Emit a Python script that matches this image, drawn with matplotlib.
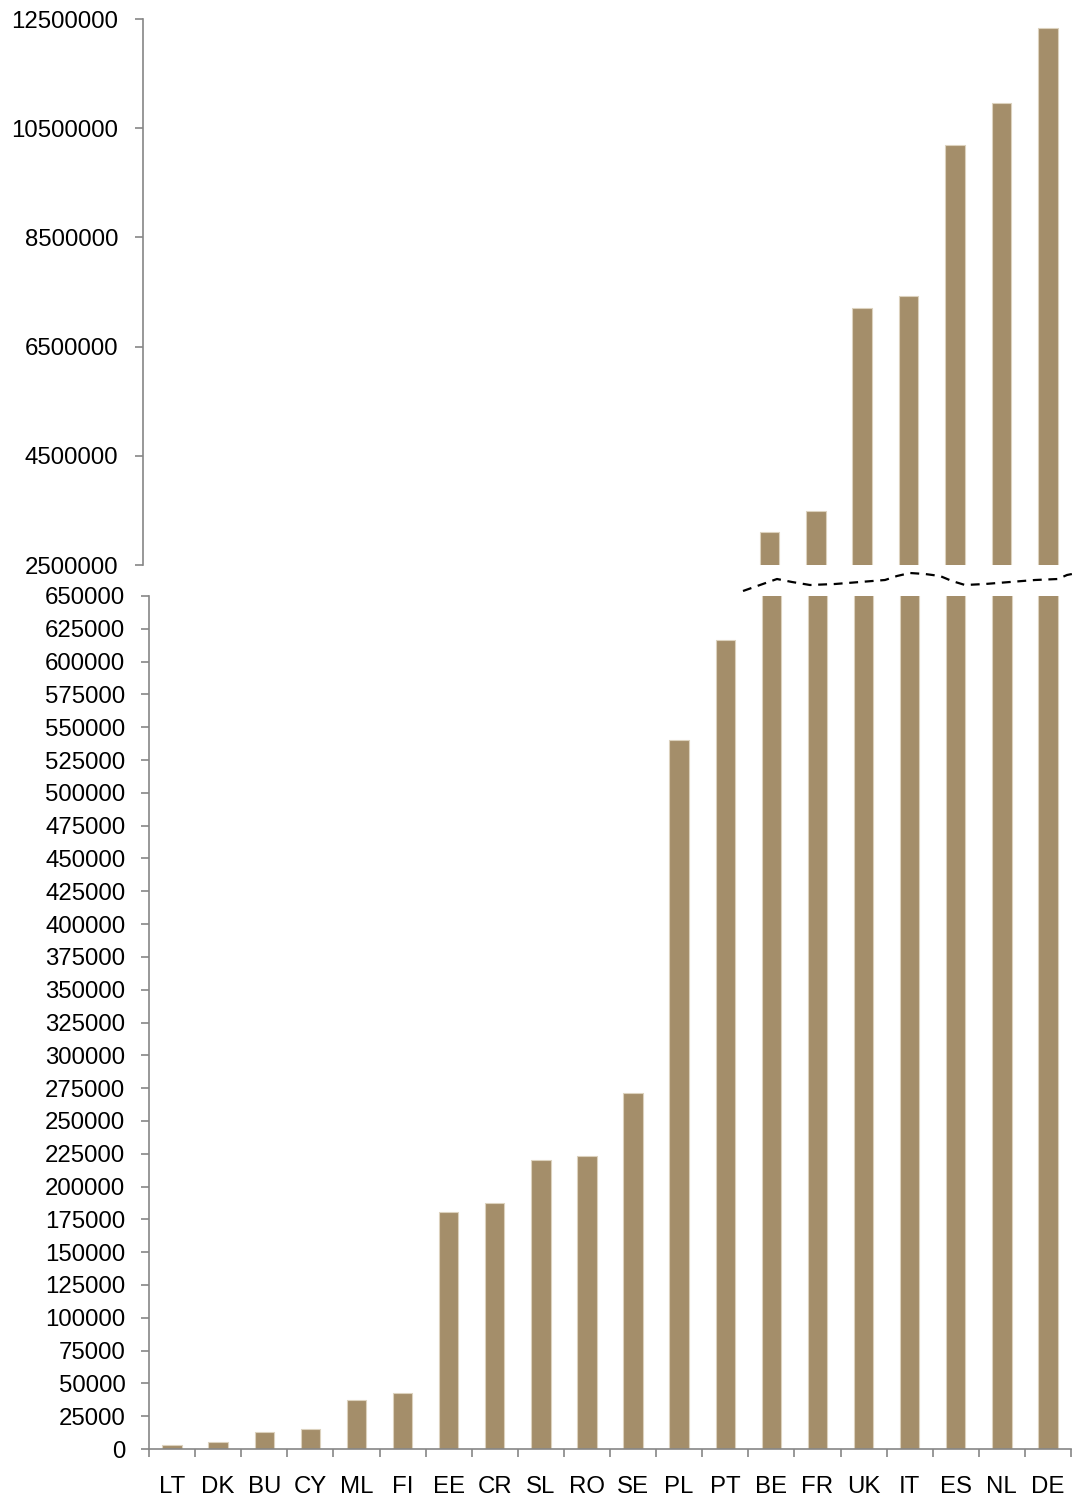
import numpy as np
import matplotlib
matplotlib.use("Agg")
import matplotlib.pyplot as plt
from matplotlib.lines import Line2D

plt.rcParams["font.family"] = ["Liberation Sans", "DejaVu Sans"]

# countries, sorted by value
countries = ["LT", "DK", "BU", "CY", "ML", "FI", "EE", "CR", "SL", "RO",
             "SE", "PL", "PT", "BE", "FR", "UK", "IT", "ES", "NL", "DE"]
values = [3000, 5000, 13000, 15000, 37500, 42500, 180500, 187500, 220000, 223500,
          271500, 540500, 616500, 3100000, 3490000, 7200000, 7430000, 10190000,
          10960000, 12330000]

top_ticks = [2500000, 4500000, 6500000, 8500000, 10500000, 12500000]
bottom_ticks = list(range(0, 650001, 25000))

BAR = "#A48E6A"
EDGE = "#DCD2BE"
AXCOL = "#868686"
FS = 17.3

W, H = 1077, 1497
fig = plt.figure(figsize=(W / 100, H / 100), dpi=100)


def frac(x0, y0, x1, y1):
    # pixel box -> figure fraction rect
    return [x0 / W, 1 - y1 / H, (x1 - x0) / W, (y1 - y0) / H]


ax_top = fig.add_axes(frac(143, 19, 1071, 565))
ax_bot = fig.add_axes(frac(149, 596, 1071, 1449))

x = np.arange(len(countries))
for ax in (ax_top, ax_bot):
    ax.bar(x, values, width=0.42, color=BAR, edgecolor=EDGE, linewidth=0.8)
    ax.set_xlim(-0.5, len(countries) - 0.5)
    for s in ("top", "right"):
        ax.spines[s].set_visible(False)
    ax.spines["left"].set_color(AXCOL)
    ax.spines["left"].set_linewidth(1.2)
    ax.tick_params(axis="y", colors=AXCOL, labelcolor="black", length=6,
                   width=1.2, labelsize=FS)
    ax.ticklabel_format(axis="y", style="plain", useOffset=False)

# upper panel
ax_top.set_ylim(2500000, 12500000)
ax_top.set_yticks(top_ticks)
ax_top.yaxis.set_tick_params(pad=12)
ax_top.spines["bottom"].set_visible(False)
ax_top.set_xticks([])

# lower panel
ax_bot.set_ylim(0, 650000)
ax_bot.set_yticks(bottom_ticks)
ax_bot.yaxis.set_tick_params(pad=11)
ax_bot.spines["bottom"].set_color(AXCOL)
ax_bot.spines["bottom"].set_linewidth(1.2)
ax_bot.set_xticks(x)
ax_bot.set_xticklabels(countries)
ax_bot.set_xticks(np.arange(-0.5, len(countries)), minor=True)
ax_bot.tick_params(axis="x", which="major", length=0, pad=19.5, labelsize=FS)
ax_bot.tick_params(axis="x", which="minor", length=6, width=1.2, colors=AXCOL)

# wavy dashed break marker between the panels
bx = [743, 760, 777, 792, 810, 835, 860, 885, 897, 910, 925, 940, 952, 965,
      985, 1010, 1035, 1058, 1067, 1077]
by = [591, 585, 579, 582, 585, 584, 582, 580, 576, 573, 574, 576, 581, 585,
      584, 582, 580, 579, 575, 573]
fig.add_artist(Line2D(np.array(bx) / W, 1 - np.array(by) / H,
                      transform=fig.transFigure, color="black", lw=1.6,
                      ls=(0, (4, 3))))

fig.savefig("out.png", dpi=100)
